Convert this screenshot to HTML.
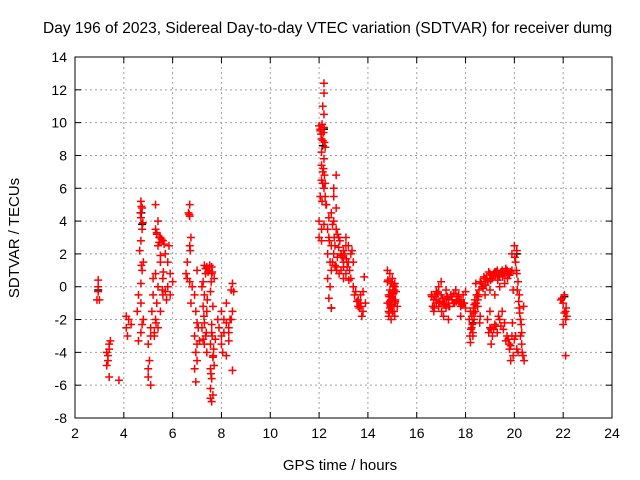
<!DOCTYPE html>
<html><head><meta charset="utf-8"><style>
body{margin:0;background:#fff;}
svg{display:block;font-family:"Liberation Sans",sans-serif;}
</style></head><body>
<svg id="chart" width="640" height="480">
<text x="43" y="33" font-size="15.5" text-anchor="start">Day 196 of 2023, Sidereal Day-to-day VTEC variation (SDTVAR) for receiver dumg</text>
<text x="340" y="470" font-size="15" text-anchor="middle">GPS time / hours</text>
<text transform="translate(19,238) rotate(-90)" font-size="15" text-anchor="middle">SDTVAR / TECUs</text>
<g id="grid"></g><g id="axes"></g><g id="black"></g><g id="red"></g>
</svg>
<script>
const xTicks=[2,4,6,8,10,12,14,16,18,20,22,24];
const yTicks=[-8,-6,-4,-2,0,2,4,6,8,10,12,14];
const redT=[2.95,2.95,2.95,2.9,3.0,3.3,3.35,3.4,3.45,3.3,3.4,3.35,3.4,3.8,4.1,4.2,4.1,4.15,4.3,
4.7,4.75,4.7,4.75,4.7,4.65,4.8,4.75,4.7,4.6,4.7,4.55,4.8,4.7,4.6,4.75,
5.0,5.05,5.0,5.1,5.0,5.1,5.15,5.2,5.2,5.1,
5.3,5.4,5.3,5.5,5.4,5.6,5.5,5.3,5.4,5.6,5.7,5.35,5.3,5.4,5.25,5.5,5.6,
5.8,5.9,5.8,5.9,5.75,6.0,5.85,5.7,
6.7,6.65,6.7,6.75,6.7,6.6,6.55,6.7,6.8,6.9,6.75,6.6,
6.95,7.0,6.9,7.0,6.95,6.9,6.95,7.0,7.05,7.1,7.0,
7.3,7.4,7.35,7.5,7.25,7.3,7.4,7.3,7.2,7.35,7.3,7.4,7.25,7.2,
7.6,7.6,7.7,7.55,7.65,7.6,7.55,7.65,7.55,7.6,7.55,7.6,7.65,7.7,7.6,7.75,
7.85,7.9,8.0,8.1,8.0,8.2,8.3,8.1,8.05,8.3,8.2,8.35,8.0,8.2,8.3,
8.45,8.4,8.5,8.45,8.45,8.4,
12.2,12.2,12.15,12.2,12.0,12.05,12.1,12.2,12.25,12.1,12.2,12.15,12.1,12.2,12.05,12.25,12.0,12.1,12.0,12.1,12.2,
12.3,12.4,12.5,12.4,12.5,12.35,12.45,12.6,12.5,12.35,12.45,12.4,12.5,12.6,12.7,12.6,12.7,12.6,12.7,12.8,12.65,12.75,12.8,12.7,12.9,
13.0,13.1,13.0,13.1,13.2,13.3,13.2,13.4,13.3,13.4,13.1,12.9,13.0,
13.5,13.6,13.7,13.7,13.8,13.75,13.6,13.8,13.9,
14.8,14.9,14.8,14.9,14.85,14.8,14.9,14.85,14.95,15.0,15.1,15.0,15.1,15.0,15.1,15.2,15.15,14.95,
16.6,16.7,16.8,16.9,16.7,16.8,17.0,17.0,17.1,17.2,17.3,17.2,17.4,17.5,16.9,17.1,17.3,17.6,17.7,17.8,17.9,18.0,17.8,18.0,
18.2,18.25,18.3,18.2,18.35,18.4,18.45,18.5,18.3,18.55,18.6,18.5,18.6,18.4,
18.7,18.8,18.9,19.0,19.1,19.2,19.3,19.4,19.5,19.6,19.7,19.8,19.9,19.4,19.6,19.0,19.2,18.8,
18.9,19.0,19.1,19.2,19.3,19.4,19.5,19.6,19.7,19.8,19.9,20.0,20.1,19.95,19.85,19.05,19.0,
20.0,20.1,20.05,20.1,20.15,20.2,20.2,20.25,20.3,20.3,20.35,20.4,20.25,
21.9,22.0,22.05,22.1,22.1,22.0,22.15,22.1,
4.72,4.68,4.78,4.72,5.35,5.45,5.55,5.45,5.65,5.35,5.5,5.25,5.32,5.58,5.62,
6.68,6.72,7.35,7.45,7.52,7.42,7.62,7.58,7.68,7.62,7.57,7.66,7.55,7.25,7.28,7.38,
12.05,12.08,12.12,12.15,12.18,12.22,12.1,12.18,12.15,12.22,12.12,12.25,12.28,
12.35,12.42,12.55,12.62,12.75,12.85,12.95,13.05,13.15,13.25,13.35,12.55,12.65,12.72,12.82,12.9,13.0,13.12,13.22,13.45,13.55,13.65,13.72,13.85,
14.82,14.87,14.92,14.97,15.02,15.07,15.12,14.85,14.9,14.95,15.0,15.05,15.1,15.05,14.88,14.93,15.08,15.12,
16.65,16.75,16.85,16.95,17.05,17.15,17.25,17.35,17.45,17.55,17.65,17.75,17.85,17.95,16.62,16.72,16.82,16.92,17.02,17.12,17.22,17.32,17.42,17.52,17.62,17.72,17.82,17.92,
18.15,18.22,18.28,18.33,18.38,18.43,18.48,18.53,18.58,18.18,18.26,18.32,18.36,18.42,
18.65,18.75,18.85,18.95,19.05,19.15,19.25,19.35,19.45,19.55,19.65,19.75,19.85,19.95,18.72,18.82,18.92,19.02,19.12,19.22,19.32,19.52,19.72,19.92,
18.95,19.05,19.15,19.25,19.35,19.45,19.55,19.65,19.75,19.85,20.05,20.15,19.8,19.9,
20.02,20.08,20.12,20.18,20.22,20.28,20.32,20.38,21.95,22.05,22.12,22.02];
const redV=[0.4,0,-0.3,-0.8,-0.8,-4.0,-4.5,-3.5,-3.3,-4.8,-5.5,-4.2,-3.8,-5.7,-1.8,-2.0,-2.5,-3.0,-2.3,
5.2,4.8,4.2,3.5,2.8,2.2,1.5,1.0,0.2,-0.5,-1.0,-1.5,-2.0,-2.8,-3.3,-2.3,
-3.5,-4.5,-5.5,-6.0,-5.0,-2.5,-1.5,-0.5,0.5,-3.0,
5.0,4.0,3.5,3.0,2.5,2.8,1.5,0.8,0,0.5,-0.3,-1.0,-2.0,-2.5,-3.0,-1.5,-0.5,
1.5,0.8,0,-0.5,-0.8,0.3,2.5,2.0,
5.0,4.5,4.3,3.0,2.5,1.5,0.8,0.3,0,-0.5,-1.0,0.5,
-1.5,-2.2,-3.0,-3.5,-4.0,-5.0,-5.8,-4.5,-2.5,-3.3,1.0,
1.3,1.2,0.8,1.0,0.3,-0.5,-1.5,-2.2,-2.5,-3.0,-3.5,-4.0,-1.2,0.0,
0.8,1.2,0.5,-0.3,-1.2,-2.3,-3.5,-4.3,-5.0,-5.6,-6.2,-7.0,-6.6,-4.8,-2.8,-3.2,
-2.0,-2.5,-3.0,-2.0,-3.5,-2.2,-2.8,-2.8,-4.0,-3.3,-4.2,-2.0,-1.5,-1.0,-2.5,
0.2,-0.2,-0.3,-5.1,-1.5,-2.0,
12.4,11.8,11.0,10.5,9.8,9.5,9.0,9.7,8.5,8.2,7.8,7.0,6.5,6.0,5.5,5.5,4.0,3.5,3.0,2.8,3.8,
5.0,4.2,4.5,3.0,2.5,2.0,1.5,2.0,1.0,0.5,0.0,-0.7,-1.3,6.0,6.8,5.5,4.8,4.0,3.5,3.0,2.5,1.8,2.4,1.2,2.0,
2.2,2.5,1.5,0.8,2.5,2.0,1.5,1.5,0.5,0.0,3.0,1.0,0.5,
-0.3,-0.8,-0.5,-1.0,-1.5,-1.8,-1.2,-0.3,-1.0,
1.0,0.8,0.3,-0.2,-0.5,-1.0,-1.3,-1.8,-2.0,-1.5,-1.0,-0.5,0,0.5,-1.8,-1.2,-0.3,0.2,
-0.5,-0.8,-1.0,-1.2,-1.5,-0.3,0.3,-0.5,-1.0,-1.3,-0.8,-0.2,-0.5,-1.0,0.0,-1.8,-2.0,-0.2,-0.8,-1.2,-0.5,-1.3,-1.8,-0.3,
-1.5,-2.5,-3.0,-3.4,-2.0,-1.0,-0.5,-1.2,-2.8,-0.2,0.3,-0.8,-1.8,-1.5,
0.0,0.5,0.3,0.8,0.5,0.9,1.0,0.6,1.0,0.8,1.0,0.7,1.0,0.0,0.2,-0.2,-0.5,-0.5,
-2.0,-2.5,-3.0,-2.3,-2.8,-2.0,-1.5,-2.2,-3.0,-3.5,-3.0,-3.2,-3.8,-4.2,-4.5,-3.5,-1.5,
2.5,2.2,1.5,0.8,0.3,-0.5,-1.3,-2.0,-2.8,-3.5,-4.2,-4.5,-3.0,
-0.8,-1.0,-0.5,-1.5,-2.0,-2.3,-1.8,-4.2,
4.9,4.5,3.9,1.3,3.2,3.0,2.9,2.7,2.6,3.3,1.9,-2.8,-2.2,-0.2,0.9,
4.4,2.2,1.1,0.9,1.3,-0.8,0.9,0.3,-3.8,-3.0,-5.3,-4.2,-6.8,-3.2,-1.8,-2.8,
9.6,9.3,9.9,8.9,9.4,8.8,7.4,7.2,6.3,6.8,5.2,6.3,5.0,
3.5,2.8,3.8,3.0,3.2,2.8,1.8,2.0,1.2,1.0,2.2,1.5,1.3,1.0,0.8,1.9,1.2,1.7,0.4,-0.5,-0.9,-1.3,-1.2,
0.6,0.4,-0.6,-1.1,-0.8,-0.3,-1.5,-0.8,-1.5,-0.9,-1.2,-0.7,-0.4,0.2,0.1,-1.6,-0.6,-0.2,
-0.9,-1.2,-0.6,-0.4,-1.0,-0.7,-1.1,-0.6,-1.2,-0.8,-1.0,-0.6,-0.9,-1.1,-1.0,-0.6,-1.3,-0.8,-0.9,-1.5,-1.0,-0.7,-1.2,-0.6,-0.4,-0.9,-0.5,-0.8,
-1.0,-2.0,-2.6,-2.3,-1.6,-0.8,-1.0,-0.5,-0.6,-2.2,-3.0,-1.8,-1.3,-1.1,
0.2,0.2,0.6,0.5,0.9,0.7,0.8,0.9,0.7,0.9,0.8,1.1,0.8,0.9,-0.2,-0.1,0.1,0.3,0.4,0.6,0.7,0.4,0.6,0.5,
-2.2,-2.8,-2.6,-2.6,-2.4,-1.8,-2.4,-2.6,-3.3,-3.2,-3.6,-3.0,-4.0,-3.8,
2.0,1.8,1.0,-0.2,-0.9,-1.6,-2.3,-4.0,-1.2,-0.7,-1.6,-1.3];
const blackT=[2.95,4.72,4.75,12.15,12.2,12.5,20.1,22.05,18.3];
const blackV=[-0.2,4.5,3.8,8.6,9.6,-1.3,2.0,-0.6,-2.2];
const X0=75,X1=612,Y0=418,Y1=57;
const xs=t=>X0+(t-2)/22*(X1-X0);
const ys=v=>Y0-(v+8)/22*(Y0-Y1);
const NS='http://www.w3.org/2000/svg';
const grid=document.getElementById('grid'),axes=document.getElementById('axes');
function mk(tag,attrs,parent){const e=document.createElementNS(NS,tag);for(const k in attrs)e.setAttribute(k,attrs[k]);parent.appendChild(e);return e;}
xTicks.forEach(t=>{const x=xs(t);
 if(t>2&&t<24){const g=mk('line',{x1:x,x2:x,y1:Y1,y2:Y0,stroke:'#a0a0a0','stroke-dasharray':'2,3'},grid);
 
 }
 mk('line',{x1:x,x2:x,y1:Y0,y2:Y0-6,stroke:'#000'},axes);mk('line',{x1:x,x2:x,y1:Y1,y2:Y1+6,stroke:'#000'},axes);
 const l=mk('text',{x:x,y:Y0+20,'font-size':14,'text-anchor':'middle'},axes);l.textContent=t;
 
 });
yTicks.forEach(v=>{const y=ys(v);
 if(v>-8&&v<14){const g=mk('line',{x1:X0,x2:X1,y1:y,y2:y,stroke:'#a0a0a0','stroke-dasharray':'2,3'},grid);
 
 }
 mk('line',{x1:X0,x2:X0+6,y1:y,y2:y,stroke:'#000'},axes);mk('line',{x1:X1,x2:X1-6,y1:y,y2:y,stroke:'#000'},axes);
 const l=mk('text',{x:X0-8,y:y+5,'font-size':14,'text-anchor':'end'},axes);l.textContent=v;
 
 });
const fr=mk('rect',{x:X0,y:Y1,width:X1-X0,height:Y0-Y1,fill:'none',stroke:'#000'},axes);


function plus(t,v,col,parent,name){const x=xs(t),y=ys(v);
 const p=mk('path',{d:`M${x-4},${y}h8M${x},${y-4}v8`,stroke:col,'stroke-width':1.5,fill:'none'},parent);
 
 }
blackT.forEach((t,i)=>plus(t,blackV[i],'#000',document.getElementById('black'),'black-point'));
redT.forEach((t,i)=>plus(t,redV[i],'#f00',document.getElementById('red'),'red-point'));
</script>
</body></html>
